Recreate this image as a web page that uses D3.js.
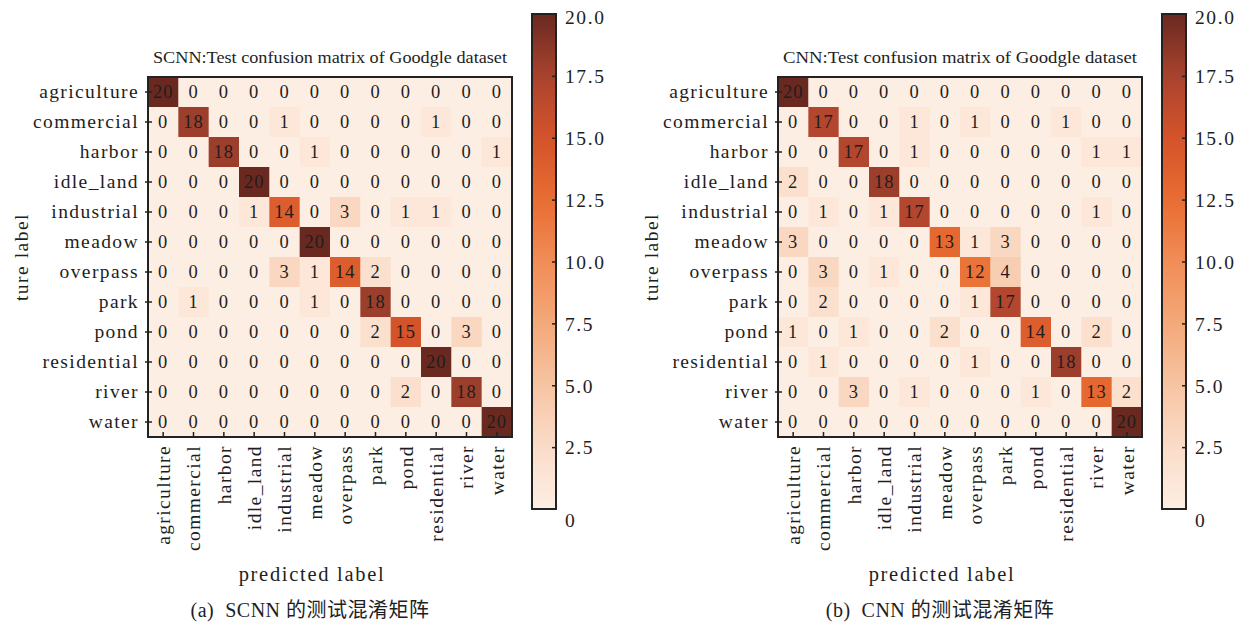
<!DOCTYPE html>
<html><head><meta charset="utf-8">
<script src="https://cdn.jsdelivr.net/npm/d3@7"></script>
<style>
body{margin:0;background:#fff;}
svg text{font-family:"Liberation Serif","Times New Roman","Noto Sans CJK SC",serif !important;fill:#1e1e1e;}
</style></head>
<body><svg id="chart" width="1245" height="625"></svg>
<script>
const classes = ["agriculture","commercial","harbor","idle_land","industrial","meadow","overpass","park","pond","residential","river","water"];
const scnnValues = [
 [20,0,0,0,0,0,0,0,0,0,0,0],
 [0,18,0,0,1,0,0,0,0,1,0,0],
 [0,0,18,0,0,1,0,0,0,0,0,1],
 [0,0,0,20,0,0,0,0,0,0,0,0],
 [0,0,0,1,14,0,3,0,1,1,0,0],
 [0,0,0,0,0,20,0,0,0,0,0,0],
 [0,0,0,0,3,1,14,2,0,0,0,0],
 [0,1,0,0,0,1,0,18,0,0,0,0],
 [0,0,0,0,0,0,0,2,15,0,3,0],
 [0,0,0,0,0,0,0,0,0,20,0,0],
 [0,0,0,0,0,0,0,0,2,0,18,0],
 [0,0,0,0,0,0,0,0,0,0,0,20]
];
const cnnValues = [
 [20,0,0,0,0,0,0,0,0,0,0,0],
 [0,17,0,0,1,0,1,0,0,1,0,0],
 [0,0,17,0,1,0,0,0,0,0,1,1],
 [2,0,0,18,0,0,0,0,0,0,0,0],
 [0,1,0,1,17,0,0,0,0,0,1,0],
 [3,0,0,0,0,13,1,3,0,0,0,0],
 [0,3,0,1,0,0,12,4,0,0,0,0],
 [0,2,0,0,0,0,1,17,0,0,0,0],
 [1,0,1,0,0,2,0,0,14,0,2,0],
 [0,1,0,0,0,0,1,0,0,18,0,0],
 [0,0,3,0,1,0,0,0,1,0,13,2],
 [0,0,0,0,0,0,0,0,0,0,0,20]
];
const colorTicks = [0,2.5,5,7.5,10,12.5,15,17.5,20];
const colorTickLabels = ["0","2.5","5.0","7.5","10.0","12.5","15.0","17.5","20.0"];
const titles = ["SCNN:Test confusion matrix of Goodgle dataset","CNN:Test confusion matrix of Goodgle dataset"];
const captions = ["(a)\u00a0\u00a0SCNN 的测试混淆矩阵","(b)\u00a0\u00a0CNN 的测试混淆矩阵"];
const xAxisTitle = "predicted label";
const yAxisTitle = "ture label";

const palette = ["#fdeee3","#fadcc9","#f6c4a2","#f4a879","#f18d57","#e86d31","#d4532a","#a9432f","#6a2920"];
const color = d3.scaleLinear().domain(colorTicks).range(palette).clamp(true);
const SERIF = "'Liberation Serif','Times New Roman','Noto Sans CJK SC',serif";

const svg = d3.select("#chart");
const defs = svg.append("defs");
const grad = defs.append("linearGradient").attr("id","cbgrad").attr("x1",0).attr("y1",1).attr("x2",0).attr("y2",0);
d3.range(0,1.0001,0.05).forEach(t=>grad.append("stop").attr("offset",t).attr("stop-color",color(t*20)));

function panel(offsetX, values, title, caption){
  const x0 = 148 + offsetX, y0 = 77, W = 364, H = 360;
  const g = svg.append("g").attr("font-family", SERIF);
  const xs = d3.scaleBand().domain(classes).range([x0, x0+W]);
  const ys = d3.scaleBand().domain(classes).range([y0, y0+H]);
  const cells = [];
  values.forEach((row,i)=>row.forEach((v,j)=>cells.push({r:classes[i],c:classes[j],v})));
  g.selectAll("rect.cell").data(cells).join("rect").attr("class","cell")
    .attr("x",d=>xs(d.c)).attr("y",d=>ys(d.r))
    .attr("width",xs.bandwidth()+0.5).attr("height",ys.bandwidth()+0.5)
    .attr("fill",d=>color(d.v));
  g.selectAll("text.num").data(cells).join("text").attr("class","num")
    .attr("x",d=>xs(d.c)+xs.bandwidth()/2).attr("y",d=>ys(d.r)+ys.bandwidth()/2)
    .attr("text-anchor","middle").attr("dy","0.35em")
    .style("font-size","18.5px").style("letter-spacing","1px")
    .text(d=>d.v);
  // frame
  g.append("rect").attr("x",x0).attr("y",y0).attr("width",W).attr("height",H)
    .attr("fill","none").attr("stroke","#222").attr("stroke-width",2);
  // left axis
  const ya = g.append("g").attr("transform",`translate(${x0},0)`)
    .call(d3.axisLeft(ys).tickSize(0).tickPadding(9));
  ya.attr("font-family", SERIF);
  ya.select(".domain").remove();
  ya.selectAll("text").style("font-size","19.5px").style("letter-spacing","1.4px");
  ya.selectAll(".tick").append("line").attr("x1",-3).attr("x2",4).attr("stroke","#222").attr("stroke-width",1.5);
  // bottom axis
  const xa = g.append("g").attr("transform",`translate(0,${y0+H})`)
    .call(d3.axisBottom(xs).tickSize(0).tickPadding(0));
  xa.attr("font-family", SERIF);
  xa.select(".domain").remove();
  xa.selectAll(".tick").append("line").attr("y1",0).attr("y2",-5).attr("stroke","#222").attr("stroke-width",1.5);
  xa.selectAll("text").attr("transform","rotate(-90)").attr("text-anchor","end")
    .attr("x",-8).attr("y",0).attr("dy","0.35em")
    .style("font-size","19.5px").style("letter-spacing","1.4px");
  // title
  g.append("text").attr("x",x0+W/2).attr("y",63).attr("text-anchor","middle")
    .style("font-size","17.5px").attr("textLength",354).attr("lengthAdjust","spacingAndGlyphs").text(title);
  // axis titles
  g.append("text").attr("transform",`translate(${21+offsetX},${257}) rotate(-90)`)
    .attr("text-anchor","middle").attr("dy","0.35em")
    .style("font-size","19.5px").style("letter-spacing","1.5px").text(yAxisTitle);
  g.append("text").attr("x",x0+W/2-18).attr("y",581).attr("text-anchor","middle")
    .style("font-size","20.5px").style("letter-spacing","1.7px").text(xAxisTitle);
  g.append("text").attr("x",x0+W/2-20).attr("y",617).attr("text-anchor","middle")
    .style("font-size","20px").style("letter-spacing","0.5px").text(caption);
  // colorbar
  const cbx = 532 + offsetX, cby0 = 14, cby1 = 509, cbw = 24;
  const cs = d3.scaleLinear().domain([0,20]).range([cby1,cby0]);
  g.append("rect").attr("x",cbx).attr("y",cby0).attr("width",cbw).attr("height",cby1-cby0)
    .attr("fill","url(#cbgrad)").attr("stroke","#222").attr("stroke-width",2);
  const ca = g.append("g").attr("transform",`translate(${cbx+cbw},0)`)
    .call(d3.axisRight(cs).tickValues(colorTicks).tickSize(0).tickPadding(9)
      .tickFormat((d,i)=>colorTickLabels[i]));
  ca.attr("font-family", SERIF);
  ca.select(".domain").remove();
  ca.selectAll(".tick").filter(d=>d>0&&d<20).append("line").attr("x1",-4).attr("x2",1).attr("stroke","#222").attr("stroke-width",1.5);
  ca.selectAll("text").style("font-size","19.5px").style("letter-spacing","1.6px")
    .attr("dy",d=>d===20?"0.5em":(d===0?"0.9em":"0.35em"));
}
panel(0, scnnValues, titles[0], captions[0]);
panel(630, cnnValues, titles[1], captions[1]);
</script></body></html>
